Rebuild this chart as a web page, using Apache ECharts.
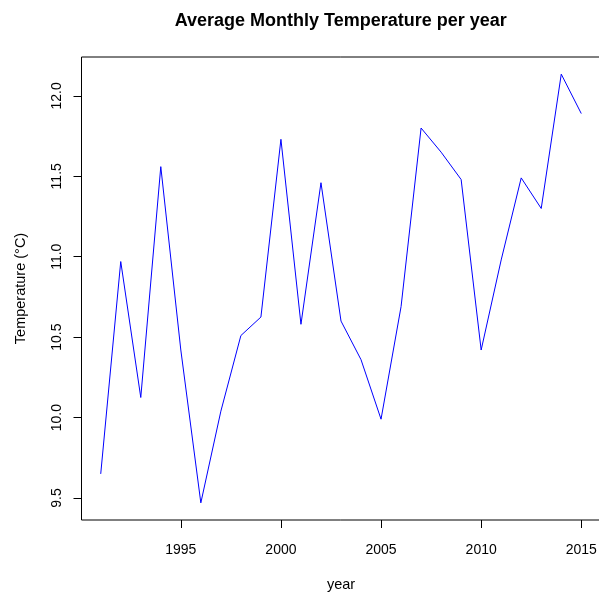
<!DOCTYPE html>
<html>
<head>
<meta charset="utf-8">
<script src="https://cdn.jsdelivr.net/npm/echarts@6/dist/echarts.min.js"></script>
<style>html,body{margin:0;padding:0;background:#fff;}#c{width:599px;height:592px;}</style>
</head>
<body>
<div id="c"></div>
<script>
var years = [1991,1992,1993,1994,1995,1996,1997,1998,1999,2000,2001,2002,2003,2004,2005,2006,2007,2008,2009,2010,2011,2012,2013,2014,2015];
var temps = [9.65,10.97,10.125,11.56,10.42,9.47,10.04,10.51,10.625,11.73,10.58,11.46,10.60,10.36,9.99,10.69,11.80,11.65,11.48,10.42,10.98,11.49,11.30,12.135,11.89];
var xTicks = [1995,2000,2005,2010,2015];
var yTicks = [9.5,10.0,10.5,11.0,11.5,12.0];
var titleText = 'Average Monthly Temperature per year';
var xTitle = 'year';
var yTitle = 'Temperature (°C)';

var font = 'Liberation Sans, Arial, Helvetica, sans-serif';
var chart = echarts.init(document.getElementById('c'), null, {renderer: 'canvas'});
var dataPts = years.map(function (y, i) { return [y, temps[i]]; });
var ymin = Math.min.apply(null, temps), ymax = Math.max.apply(null, temps);
var yr = ymax - ymin;
var xmin = years[0], xmax = years[years.length - 1], xr = xmax - xmin;

chart.setOption({
  animation: false,
  backgroundColor: '#ffffff',
  graphic: [{
    type: 'text',
    x: 340.8,
    y: 21,
    style: {text: titleText, font: 'bold 18px ' + font, fill: '#000', align: 'center', verticalAlign: 'middle'}
  }],
  grid: {left: 81.5, top: 57, width: 519, height: 463, show: true, borderColor: '#000', borderWidth: 1, containLabel: false, outerBoundsMode: 'none'},
  xAxis: {
    type: 'value',
    min: xmin - 0.04 * xr, max: xmax + 0.04 * xr,
    name: xTitle, nameLocation: 'middle', nameGap: 57.5,
    nameTextStyle: {fontFamily: font, fontSize: 14.5, color: '#000'},
    axisLine: {show: false},
    axisTick: {show: true, length: 8, lineStyle: {color: '#000'}, customValues: xTicks},
    axisLabel: {customValues: xTicks, margin: 23, fontFamily: font, fontSize: 14, color: '#000', formatter: function (v) { return String(v); }},
    splitLine: {show: false}
  },
  yAxis: {
    type: 'value',
    min: ymin - 0.04 * yr, max: ymax + 0.04 * yr,
    name: yTitle, nameLocation: 'middle', nameGap: 53, nameRotate: 90,
    nameTextStyle: {fontFamily: font, fontSize: 14.5, color: '#000'},
    axisLine: {show: false},
    axisTick: {show: true, length: 8, lineStyle: {color: '#000'}, customValues: yTicks},
    axisLabel: {customValues: yTicks, rotate: 90, margin: 17, fontFamily: font, fontSize: 14, color: '#000', formatter: function (v) { return v.toFixed(1); }},
    splitLine: {show: false}
  },
  series: [{
    type: 'line',
    data: dataPts,
    showSymbol: false,
    symbol: 'none',
    lineStyle: {color: '#0000ff', width: 1},
    itemStyle: {color: '#0000ff'}
  }]
});
</script>
</body>
</html>
